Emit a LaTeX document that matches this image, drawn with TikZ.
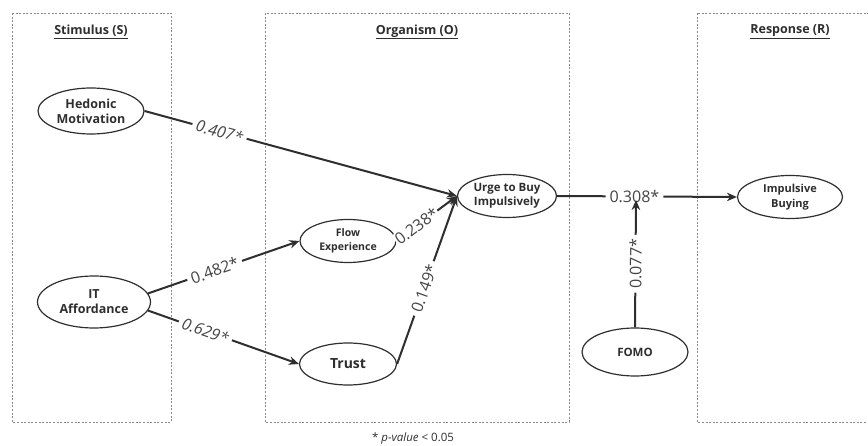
\documentclass[tikz,border=0pt]{standalone}
\usepackage{fontspec}
\setmainfont{Open Sans}
\usetikzlibrary{shapes.geometric,arrows.meta}
\definecolor{ink}{HTML}{2E2E2E}
\definecolor{lbl}{HTML}{454545}
\definecolor{boxc}{HTML}{8A8A8A}
\tikzset{
  groupbox/.style={draw=boxc, line width=0.8pt, dash pattern=on 2pt off 1.6pt},
  construct/.style={ellipse, draw=ink, line width=1.2pt, inner sep=0pt, align=center, font=\bfseries, text=ink},
  title/.style={font=\fontsize{12.5}{14}\selectfont\bfseries, text=ink},
  path/.style={draw=ink, line width=2pt, -{Stealth[length=10pt,width=8.5pt]}},
  coef/.style={fill=white, inner xsep=4pt, inner ysep=1pt, text=lbl, font=\fontsize{16}{18}\selectfont, sloped},
  coefi/.style={coef, font=\fontsize{16}{18}\selectfont\itshape},
}
\begin{document}
\begin{tikzpicture}[x=1pt,y=-1pt]
\useasboundingbox (0,0) rectangle (868,446);
\begin{scope}
\clip (0,0) rectangle (868,446);
\draw[groupbox] (12,13) rectangle (171,422);
\draw[groupbox] (265,13) rectangle (569,422);
\draw[groupbox] (697,13) rectangle (880,422);
\end{scope}
\node[title] (ts) at (91,32) {\underline{Stimulus (S)}};
\node[title] (to) at (417,32) {\underline{Organism (O)}};
\node[title] (tr) at (790,32) {\underline{Response (R)}};

\node[construct, minimum width=106pt, minimum height=46pt, font=\fontsize{12.5}{15}\selectfont\bfseries] (hm) at (91,111) {Hedonic\\Motivation};
\node[construct, minimum width=113pt, minimum height=52pt, font=\fontsize{12.5}{15}\selectfont\bfseries] (it) at (94,302) {IT\\Affordance};
\node[construct, minimum width=96pt, minimum height=43pt, font=\fontsize{10.5}{14}\selectfont\bfseries] (fe) at (348,241) {Flow\\Experience};
\node[construct, minimum width=97pt, minimum height=42pt, font=\fontsize{14}{16}\selectfont\bfseries] (tru) at (348,364) {Trust};
\node[construct, minimum width=99pt, minimum height=43pt, font=\fontsize{11.5}{14.5}\selectfont\bfseries] (urge) at (507,196) {Urge to Buy\\Impulsively};
\node[construct, minimum width=105pt, minimum height=43pt, font=\fontsize{11}{14.5}\selectfont\bfseries] (ib) at (790,197) {Impulsive\\Buying};
\node[construct, minimum width=106pt, minimum height=48pt, font=\fontsize{11.5}{13}\selectfont\bfseries] (fomo) at (635,352) {FOMO};

\coordinate (hit) at (636,200);

\draw[path] (hm.east) -- node[coefi, pos=0.24] (c1) {0.407*} (urge.west);
\draw[path] (it.9) -- node[coef, pos=0.44] (c2) {0.482*} (fe.west);
\draw[path] (it.-9) -- node[coefi, pos=0.38] (c3) {0.629*} (tru.west);
\draw[path] (fe.east) -- node[coef, pos=0.33, inner xsep=1pt] (c4) {0.238*} (urge.west);
\draw[path] (tru.east) -- node[coef, pos=0.45] (c5) {0.149*} (urge.west);
\draw[path] (urge.east) -- node[coef, pos=0.43] (c6) {0.308*} (ib.west);
\draw[path] (fomo.north) -- node[coef, pos=0.5] (c7) {0.077*} (hit);

\node[text=ink, font=\fontsize{11.5}{13}\selectfont] (note) at (413,439) {* \textit{p-value} < 0.05};
\end{tikzpicture}
\end{document}
